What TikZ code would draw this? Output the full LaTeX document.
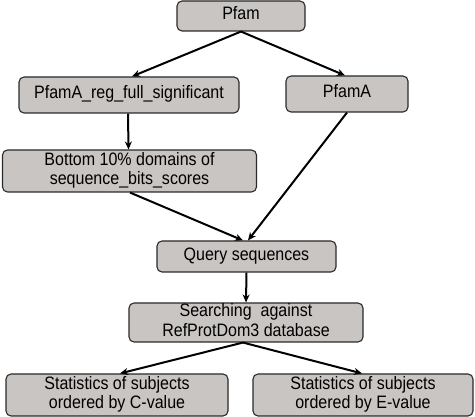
\documentclass[tikz,border=0pt]{standalone}
\usepackage{fontspec}
\usepackage{graphicx}
\setmainfont{Liberation Sans}
\usetikzlibrary{arrows.meta}
\definecolor{boxfill}{HTML}{C9C5C3}
\definecolor{boxline}{HTML}{2A2A2A}
\newcommand\boxtext[1]{\scalebox{0.89}[1]{\begin{tabular}{@{}c@{}}#1\end{tabular}}}
\tikzset{
  flowbox/.style={draw=boxline, line width=1.1pt, fill=boxfill, rounded corners=5pt,
    inner sep=0pt, align=center, font=\fontsize{18}{19.5}\selectfont},
  flowarrow/.style={line width=2pt, -{Stealth[length=8pt,width=7pt]}}
}
\begin{document}
\begin{tikzpicture}[x=1pt,y=-1pt]
\useasboundingbox (0,0) rectangle (475,417);
\node[flowbox, minimum width=128pt, minimum height=30pt] (pfam) at (241,16) {\boxtext{Pfam}};
\node[flowbox, minimum width=220pt, minimum height=36pt] (reg) at (129,95) {\boxtext{PfamA\_reg\_full\_significant}};
\node[flowbox, minimum width=122pt, minimum height=36pt] (pfama) at (347,94) {\boxtext{PfamA}};
\node[flowbox, minimum width=254pt, minimum height=42pt] (bottom) at (129.5,171) {\boxtext{Bottom 10\% domains of\\sequence\_bits\_scores}};
\node[flowbox, minimum width=179pt, minimum height=31pt] (query) at (246.5,256.5) {\boxtext{Query sequences}};
\node[flowbox, minimum width=234pt, minimum height=35pt] (search) at (246,322.5) {\raisebox{-1.5pt}{\boxtext{Searching\ \ against\\RefProtDom3 database}}};
\node[flowbox, minimum width=222pt, minimum height=42pt] (statc) at (117,395) {\boxtext{Statistics of subjects\\ordered by C-value}};
\node[flowbox, minimum width=220pt, minimum height=42pt] (state) at (363,395) {\boxtext{Statistics of subjects\\ordered by E-value}};
\draw[flowarrow] (pfam.south) -- ([xshift=3pt]reg.north);
\draw[flowarrow] (pfam.south) -- ([xshift=-2pt]pfama.north);
\draw[flowarrow] ([xshift=-1pt]reg.south) -- ([xshift=-1pt]bottom.north);
\draw[flowarrow] ([xshift=0.5pt]bottom.south) -- ([xshift=-3.5pt]query.north);
\draw[flowarrow] (pfama.south) -- ([xshift=1.5pt]query.north);
\draw[flowarrow] (query.south) -- (search.north);
\draw[flowarrow] ([xshift=-3pt]search.south) -- ([xshift=3pt]statc.north);
\draw[flowarrow] ([xshift=-3pt]search.south) -- ([xshift=-1pt]state.north);
\end{tikzpicture}
\end{document}
